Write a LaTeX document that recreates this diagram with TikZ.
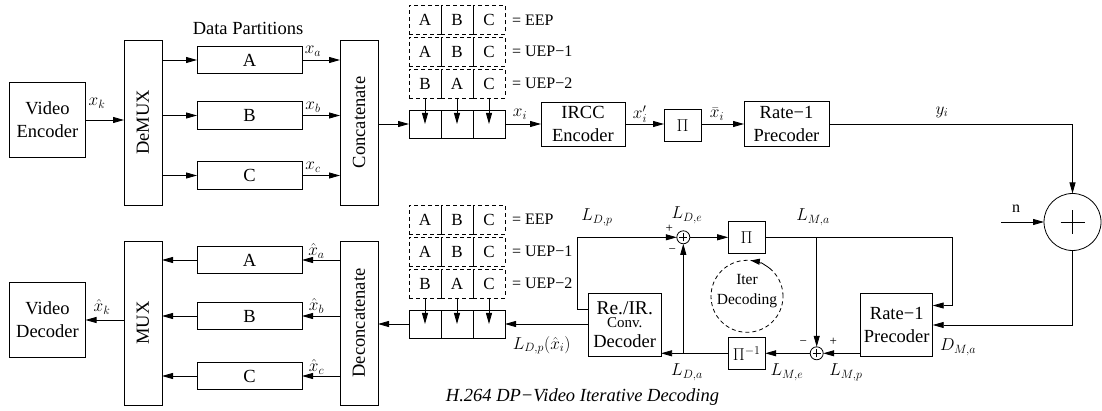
\documentclass[tikz,border=0pt]{standalone}
\usepackage{fontspec}
\setmainfont{Liberation Serif}
\usepackage{graphicx}
\usetikzlibrary{arrows.meta,calc}
\begin{document}
\begin{tikzpicture}[x=1pt,y=-1pt,
  every node/.style={inner sep=0pt, outer sep=0pt},
  box/.style={draw, line width=0.8pt, align=center, font=\fontsize{18.5}{23}\selectfont},
  dbox/.style={draw, dash pattern=on 4pt off 3pt, line width=0.8pt, minimum width=32pt, minimum height=29pt, font=\fontsize{17}{20}\selectfont},
  cell/.style={draw, line width=0.8pt, minimum width=32pt, minimum height=28pt},
  lbl/.style={font=\fontsize{16}{19}\selectfont},
  tlbl/.style={font=\fontsize{18.5}{22}\selectfont},
  mlbl/.style={font=\fontsize{17}{20}\selectfont},
  slbl/.style={font=\fontsize{13}{14}\selectfont},
  arr/.style={line width=0.8pt, -{Triangle[length=11pt,width=6pt]}},
  ln/.style={line width=0.8pt},
  sumc/.style={draw, circle, line width=0.8pt, minimum size=13pt},
]
\useasboundingbox (0,0) rectangle (1102,411);

% ---------- upper chain ----------
\node[box, minimum width=76pt, minimum height=75pt] (venc) at (47.5,120) {Video\\Encoder};
\node[box, minimum width=38pt, minimum height=165pt] (demux) at (143,122.5) {\rotatebox{90}{DeMUX}};
\node[tlbl] (dp) at (248,28) {Data Partitions};
\node[box, minimum width=105pt, minimum height=27.5pt] (pa) at (249.5,60) {A};
\node[box, minimum width=105pt, minimum height=27.5pt] (pb) at (249.5,115.5) {B};
\node[box, minimum width=105pt, minimum height=27.5pt] (pc) at (249.5,175.5) {C};
\node[box, minimum width=38pt, minimum height=165pt] (concat) at (359,122.5) {\rotatebox{90}{Concatenate}};

\draw[arr] (venc.east) -- (venc.east -| demux.west);
\node[mlbl] (lxk) at (97,103) {$x_k$};
\foreach \p/\s in {pa/a,pb/b,pc/c}{
  \draw[arr] (\p.west -| demux.east) -- (\p.west);
  \draw[arr] (\p.east) -- (\p.east -| concat.west);
}
\node[mlbl] (lxa) at (313,51) {$x_a$};
\node[mlbl] (lxb) at (313,107) {$x_b$};
\node[mlbl] (lxc) at (313,167) {$x_c$};

% dashed pattern rows (upper)
\foreach \r/\y/\a/\b/\c/\t in {1/20/A/B/C/EEP, 2/51.5/A/B/C/UEP−1, 3/83.5/B/A/C/UEP−2}{
  \node[dbox] (u\r a) at (425,\y) {\a};
  \node[dbox] (u\r b) at (457,\y) {\b};
  \node[dbox] (u\r c) at (489,\y) {\c};
  \node[lbl, anchor=west] (u\r t) at (512,\y) {= \t};
}
\node[cell] (bu1) at (425,124) {};
\node[cell] (bu2) at (457,124) {};
\node[cell] (bu3) at (489,124) {};
\draw[arr] (u3a.south) -- (bu1.center);
\draw[arr] (u3b.south) -- (bu2.center);
\draw[arr] (u3c.south) -- (bu3.center);
\draw[arr] (concat.east |- bu1.west) -- (bu1.west);

\node[box, minimum width=84pt, minimum height=44pt] (ircc) at (583,124) {IRCC\\Encoder};
\node[box, minimum width=37pt, minimum height=32pt, font=\fontsize{17}{20}\selectfont] (pi1) at (682.5,125.5) {$\Pi$};
\node[box, minimum width=85pt, minimum height=45pt] (prec1) at (786.5,124) {Rate−1\\Precoder};
\draw[arr] (bu3.east) -- (ircc.west);
\node[mlbl] (lxi) at (520,114) {$x_i$};
\draw[arr] (ircc.east) -- (ircc.east -| pi1.west);
\node[mlbl] (lxpi) at (640,114) {$x'_i$};
\draw[arr] (pi1.east |- prec1.west) -- (prec1.west);
\node[mlbl] (lxbi) at (717,114) {$\bar{x}_i$};

% channel
\node[sumc, minimum size=57pt] (sum) at (1072.5,222) {};
\draw[ln] ([xshift=-12pt]sum.center) -- ([xshift=12pt]sum.center);
\draw[ln] ([yshift=-12pt]sum.center) -- ([yshift=12pt]sum.center);
\draw[arr] (prec1.east) -- (prec1.east -| sum.north) -- (sum.north);
\node[mlbl] (lyi) at (942,112) {$y_i$};
\coordinate (nin) at (1001,222);
\draw[arr] (nin) -- (sum.west);
\node[lbl] (ln) at (1016,209) {n};

% ---------- lower chain ----------
\node[box, minimum width=72pt, minimum height=63.5pt] (prec2) at (896.7,325) {Rate−1\\Precoder};
\draw[arr] (sum.south) |- (prec2.east);
\node[mlbl] (ldma) at (958,347) {$D_{M,a}$};

\node[box, minimum width=37pt, minimum height=32pt, font=\fontsize{17}{20}\selectfont] (pi2) at (746.7,237.3) {$\Pi$};
\node[box, minimum width=37pt, minimum height=32pt, font=\fontsize{17}{20}\selectfont] (pinv) at (746.7,353.3) {$\Pi^{-1}$};
\node[sumc] (madd) at (816.7,353.3) {};
\node[sumc] (dadd) at (683.3,237.3) {};
\foreach \n in {madd,dadd}{
  \draw[line width=0.7pt] ([xshift=-4pt]\n.center) -- ([xshift=4pt]\n.center);
  \draw[line width=0.7pt] ([yshift=-4pt]\n.center) -- ([yshift=4pt]\n.center);
}

\coordinate (rt) at (952.3,237.3);
\coordinate (p2in) at ([yshift=19.5pt]prec2.east);
\draw[arr] (pi2.east) -- (rt) -- (rt |- p2in) -- (p2in);
\node[mlbl] (llma) at (813,217) {$L_{M,a}$};
\draw[arr] (pi2.east -| madd.north) -- (madd.north);
\coordinate (p2out) at ([yshift=-28.3pt]prec2.west);
\draw[arr] (p2out) -- (madd.east);
\node[slbl] (mplus) at (833.3,341.5) {+};
\node[slbl] (mminus) at (803.3,343.3) {−};
\node[mlbl] (llmp) at (846,372) {$L_{M,p}$};
\node[mlbl] (llme) at (787,372) {$L_{M,e}$};
\draw[arr] (madd.west) -- (pinv.east);

\node[box, minimum width=72.7pt, minimum height=63.4pt] (dec) at (624.7,325)
  {\fontsize{19.5}{23}\selectfont Re./IR.\\[-10pt]{\fontsize{15}{15}\selectfont Conv.}\\[-3pt]Decoder};
\draw[arr] (pinv.west) -- (pinv.west -| dec.east);
\draw[arr] (pinv.west -| dadd.south) -- (dadd.south);
\node[mlbl] (llda) at (687,372) {$L_{D,a}$};
\coordinate (dout) at ([yshift=16pt]dec.west);
\coordinate (dl) at (577,237.3);
\draw[arr] (dout) -| (dl) -- (dadd.west);
\draw[arr] (dadd.east) -- (pi2.west);
\node[slbl] (dplus) at (669.3,229.3) {+};
\node[slbl] (dminus) at (672.3,250.7) {−};
\node[mlbl] (lldp) at (597,217) {$L_{D,p}$};
\node[mlbl] (llde) at (687,215) {$L_{D,e}$};

\node[draw, circle, dash pattern=on 4pt off 3pt, line width=0.8pt, minimum size=72pt] (iter) at (747,296.3) {};
\node[align=center, font=\fontsize{15.5}{20}\selectfont] (itert) at (747,291) {Iter\\Decoding};
\draw[ln, dash pattern=on 4pt off 3pt, -{Triangle[length=9pt,width=6pt]}] (iter.50) to[bend right=15] (iter.84);

% dashed pattern rows (lower)
\foreach \r/\y/\a/\b/\c/\t in {1/219.5/A/B/C/EEP, 2/251.5/A/B/C/UEP−1, 3/283.5/B/A/C/UEP−2}{
  \node[dbox] (l\r a) at (425,\y) {\a};
  \node[dbox] (l\r b) at (457,\y) {\b};
  \node[dbox] (l\r c) at (489,\y) {\c};
  \node[lbl, anchor=west] (l\r t) at (512,\y) {= \t};
}
\node[cell] (bl1) at (425,324) {};
\node[cell] (bl2) at (457,324) {};
\node[cell] (bl3) at (489,324) {};
\draw[arr] (l3a.south) -- (bl1.center);
\draw[arr] (l3b.south) -- (bl2.center);
\draw[arr] (l3c.south) -- (bl3.center);
\draw[arr] (dec.west |- bl3.east) -- (bl3.east);
\node[mlbl] (lldpx) at (541.7,345) {$L_{D,p}(\hat{x}_i)$};

\node[box, minimum width=38pt, minimum height=164pt] (deconc) at (359,323) {\rotatebox{90}{Deconcatenate}};
\node[box, minimum width=38pt, minimum height=164pt] (mux) at (143,323) {\rotatebox{90}{MUX}};
\node[box, minimum width=105pt, minimum height=27.5pt] (qa) at (249.5,260) {A};
\node[box, minimum width=105pt, minimum height=27.5pt] (qb) at (249.5,316) {B};
\node[box, minimum width=105pt, minimum height=27.5pt] (qc) at (249.5,376) {C};
\node[box, minimum width=76pt, minimum height=75pt] (vdec) at (47.5,320) {Video\\Decoder};
\draw[arr] (bl1.west) -- (bl1.west -| deconc.east);
\foreach \p in {qa,qb,qc}{
  \draw[arr] (\p.east -| deconc.west) -- (\p.east);
  \draw[arr] (\p.west) -- (\p.west -| mux.east);
}
\node[mlbl] (lhxa) at (316.5,251) {$\hat{x}_a$};
\node[mlbl] (lhxb) at (316.5,306) {$\hat{x}_b$};
\node[mlbl] (lhxc) at (316.5,367) {$\hat{x}_c$};
\draw[arr] (vdec.east -| mux.west) -- (vdec.east);
\node[mlbl] (lhxk) at (102,307) {$\hat{x}_k$};

\node[font=\fontsize{18.5}{22}\selectfont\itshape] (cap) at (582.5,397) {H.264 DP−Video Iterative Decoding};
\end{tikzpicture}
\end{document}
